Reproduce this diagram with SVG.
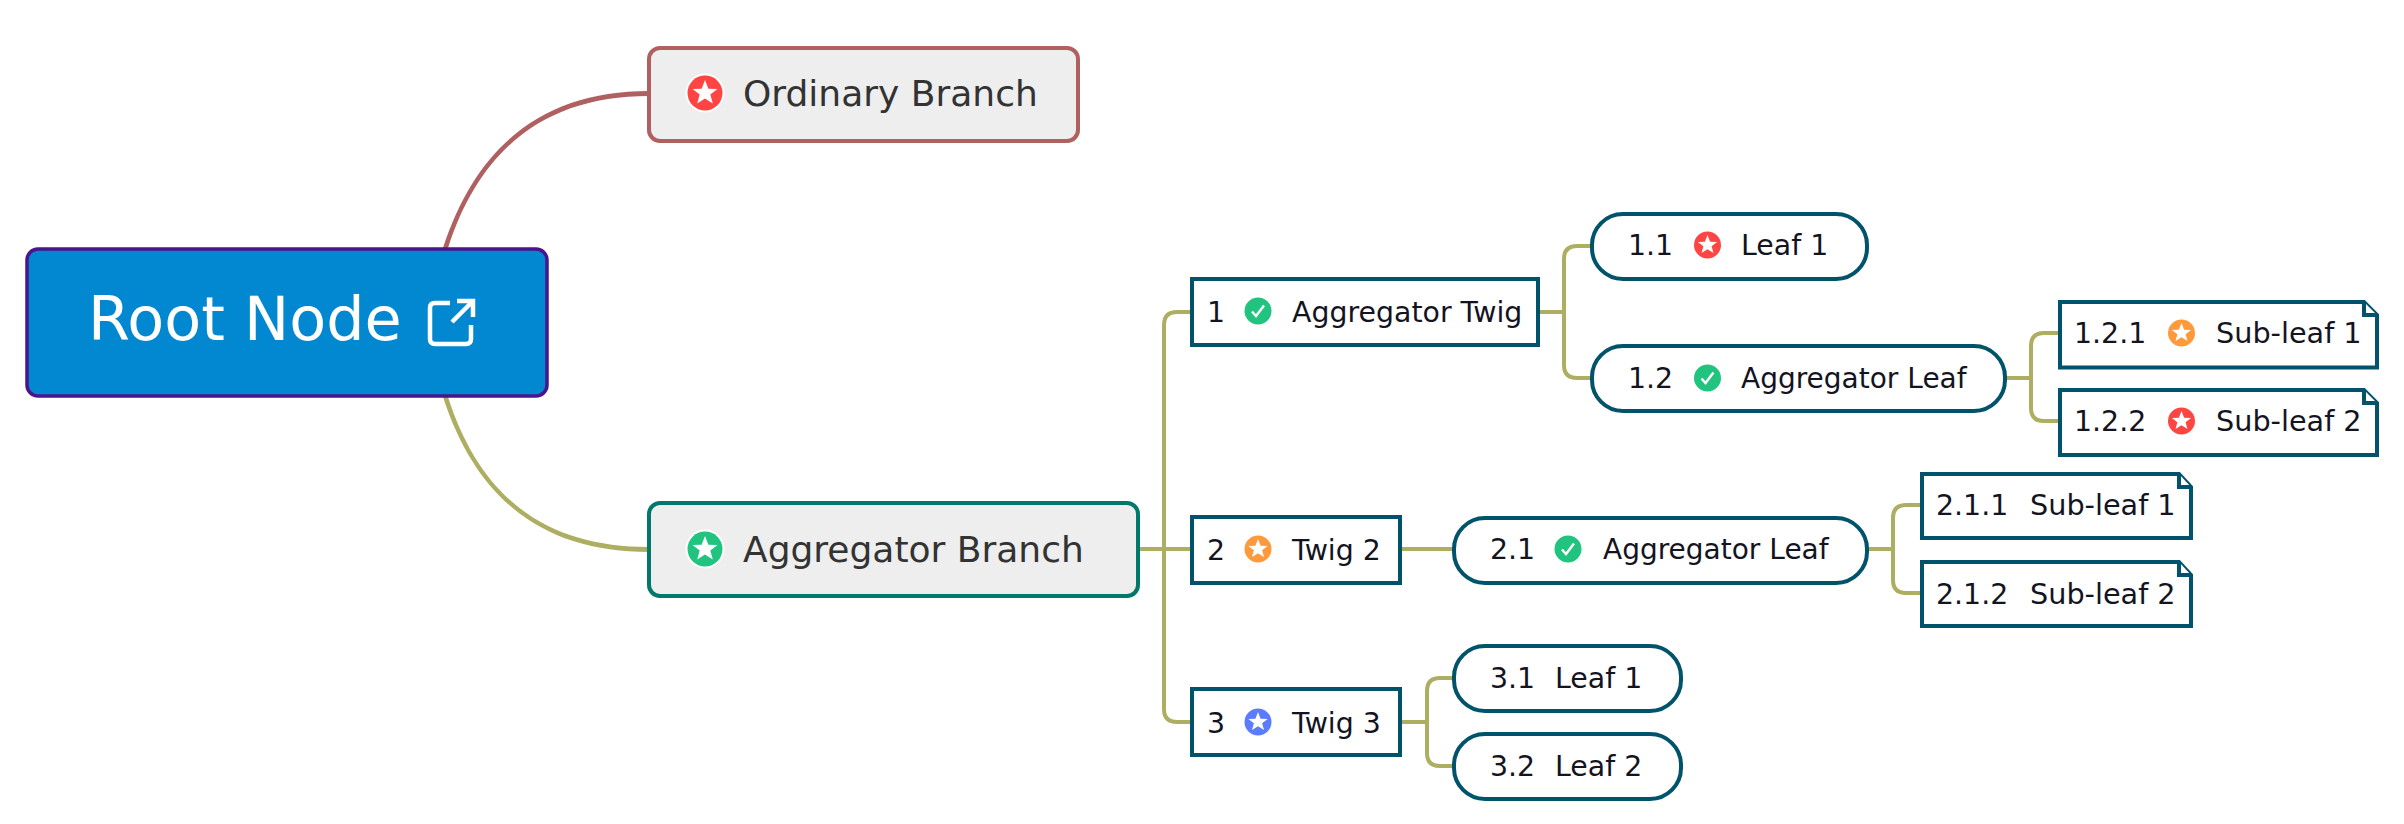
<svg xmlns="http://www.w3.org/2000/svg" width="2404" height="824" viewBox="0 0 2404 824">
<style>
text{font-family:"DejaVu Sans",Verdana,sans-serif;}
.c{fill:none;stroke:#aeae62;stroke-width:4;}
.t{font-size:28.4px;fill:#14141f;}
.al{font-size:28px;}
.sl{font-size:28.7px;}
.b{font-size:36px;fill:#333;}
.n{fill:#fff;stroke:#00536b;stroke-width:4;}
</style>
<defs>
<polygon id="star" points="0,-10 2.6,-3.2 9.6,-3.1 4.1,1.2 6,8.1 0,4.2 -6,8.1 -4.1,1.2 -9.6,-3.1 -2.6,-3.2" fill="#fff"/>
<path id="check" d="M-6,0.5 L-2,5 L6,-5.5" fill="none" stroke="#fff" stroke-width="2.4"/>
</defs>
<rect width="2404" height="824" fill="#fff"/>
<g id="connectors">
<path d="M443 248C478 140 549 91 649 91L649 96C551 96 482 143 448 248Z" fill="#b06060"/>
<path d="M443 397C478 505 549 552 649 552L649 547C551 547 482 503 448 397Z" fill="#aeae62"/>
<path class="c" d="M1138 549H1191M1191 312H1177Q1164 312 1164 325V709Q1164 722 1177 722H1191"/>
<path class="c" d="M1539 312H1564M1591 246H1577Q1564 246 1564 259V365Q1564 378 1577 378H1591"/>
<path class="c" d="M2006 378H2031M2058 333H2044Q2031 333 2031 346V408Q2031 421 2044 421H2058"/>
<path class="c" d="M1401 549H1453"/>
<path class="c" d="M1401 722H1427M1453 678H1440Q1427 678 1427 691V753Q1427 766 1440 766H1453"/>
<path class="c" d="M1868 549H1893M1920 505H1906Q1893 505 1893 518V580Q1893 593 1906 593H1920"/>
</g>
<g id="root">
<rect x="27" y="249" width="520" height="147" rx="11" fill="#0288d1" stroke="#4a148c" stroke-width="3.5"/>
<text x="88" y="340" font-size="60.400" fill="#fff">Root Node</text>
<path d="M450 303H435Q430 303 430 308V339Q430 344 435 344H466Q471 344 471 339V325M452 322L472 302M457 301H473V317" fill="none" stroke="#fff" stroke-width="4.5"/>
</g>
<g id="ordinary-branch">
<rect x="649" y="48" width="429" height="93" rx="11" fill="#eee" stroke="#b06060" stroke-width="4"/>
<circle cx="705" cy="93" r="19.500" fill="#fff"/><circle cx="705" cy="93" r="17.500" fill="#ff4444"/>
<use href="#star" transform="translate(705 93) scale(1.3)"/>
<text class="b" x="743" y="106">Ordinary Branch</text>
</g>
<g id="aggregator-branch">
<rect x="649" y="503" width="489" height="93" rx="11" fill="#eee" stroke="#00796b" stroke-width="4"/>
<circle cx="705" cy="549" r="19.500" fill="#fff"/><circle cx="705" cy="549" r="17.500" fill="#21c47e"/>
<use href="#star" transform="translate(705 549) scale(1.3)"/>
<text class="b" x="743" y="562">Aggregator Branch</text>
</g>
<g id="twig-1">
<rect class="n" x="1192" y="279" width="346" height="66"/>
<text class="t" x="1207" y="322">1</text>
<circle cx="1258" cy="311" r="13.500" fill="#21c47e"/><use href="#check" x="1258" y="311"/>
<text class="t" x="1292" y="322">Aggregator Twig</text>
</g>
<g id="leaf-1-1">
<rect class="n" x="1592" y="214" width="275" height="65" rx="31"/>
<text class="t" x="1628" y="255">1.1</text>
<circle cx="1707.500" cy="245" r="13.500" fill="#ff4444"/><use href="#star" x="1707.500" y="245"/>
<text class="t" x="1741" y="255">Leaf 1</text>
</g>
<g id="leaf-1-2">
<rect class="n" x="1592" y="346" width="413" height="65" rx="31"/>
<text class="t" x="1628" y="388">1.2</text>
<circle cx="1707.500" cy="378" r="13.500" fill="#21c47e"/><use href="#check" x="1707.500" y="378"/>
<text class="t al" x="1741" y="388">Aggregator Leaf</text>
</g>
<g id="subleaf-1-2-1">
<path class="n" d="M2060 302H2364L2377 315V367.500H2060Z"/><path class="n" d="M2364 302V315H2377" fill="none"/>
<text class="t" x="2074" y="343">1.2.1</text>
<circle cx="2181.500" cy="333" r="13.500" fill="#ff9a3c"/><use href="#star" x="2181.500" y="333"/>
<text class="t sl" x="2216" y="343">Sub-leaf 1</text>
</g>
<g id="subleaf-1-2-2">
<path class="n" d="M2060 390H2364L2377 403V455H2060Z"/><path class="n" d="M2364 390V403H2377" fill="none"/>
<text class="t" x="2074" y="431">1.2.2</text>
<circle cx="2181.500" cy="421" r="13.500" fill="#ff4444"/><use href="#star" x="2181.500" y="421"/>
<text class="t sl" x="2216" y="431">Sub-leaf 2</text>
</g>
<g id="twig-2">
<rect class="n" x="1192" y="517" width="208" height="66"/>
<text class="t" x="1207" y="560">2</text>
<circle cx="1258" cy="549" r="13.500" fill="#ff9a3c"/><use href="#star" x="1258" y="549"/>
<text class="t" x="1292" y="560">Twig 2</text>
</g>
<g id="leaf-2-1">
<rect class="n" x="1454" y="518" width="413" height="65" rx="31"/>
<text class="t" x="1490" y="559">2.1</text>
<circle cx="1568" cy="549" r="13.500" fill="#21c47e"/><use href="#check" x="1568" y="549"/>
<text class="t al" x="1603" y="559">Aggregator Leaf</text>
</g>
<g id="subleaf-2-1-1">
<path class="n" d="M1922 474H2179L2191 487V538H1922Z"/><path class="n" d="M2179 474V487H2191" fill="none"/>
<text class="t" x="1936" y="515">2.1.1</text>
<text class="t sl" x="2030" y="515">Sub-leaf 1</text>
</g>
<g id="subleaf-2-1-2">
<path class="n" d="M1922 562H2179L2191 575V626H1922Z"/><path class="n" d="M2179 562V575H2191" fill="none"/>
<text class="t" x="1936" y="604">2.1.2</text>
<text class="t sl" x="2030" y="604">Sub-leaf 2</text>
</g>
<g id="twig-3">
<rect class="n" x="1192" y="689" width="208" height="66"/>
<text class="t" x="1207" y="733">3</text>
<circle cx="1258" cy="722" r="13.500" fill="#5b7cff"/><use href="#star" x="1258" y="722"/>
<text class="t" x="1292" y="733">Twig 3</text>
</g>
<g id="leaf-3-1">
<rect class="n" x="1454" y="646" width="227" height="65" rx="31"/>
<text class="t" x="1490" y="688">3.1</text>
<text class="t" x="1555" y="688">Leaf 1</text>
</g>
<g id="leaf-3-2">
<rect class="n" x="1454" y="734" width="227" height="65" rx="31"/>
<text class="t" x="1490" y="776">3.2</text>
<text class="t" x="1555" y="776">Leaf 2</text>
</g>
</svg>
